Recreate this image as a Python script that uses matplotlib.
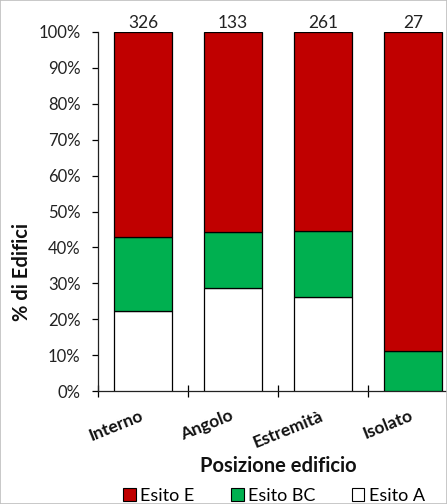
import matplotlib
matplotlib.use("Agg")
import matplotlib.pyplot as plt
from matplotlib.patches import Patch, Rectangle

plt.rcParams['font.family'] = ['Lato', 'DejaVu Sans']

categories = ["Interno", "Angolo", "Estremità", "Isolato"]
counts = [326, 133, 261, 27]
esito_a = [22.4, 28.6, 26.1, 0.0]
esito_bc = [20.6, 15.8, 18.4, 11.1]
esito_e = [57.0, 55.6, 55.5, 88.9]
yticks = [0, 10, 20, 30, 40, 50, 60, 70, 80, 90, 100]

colors = {"E": "#C00000", "BC": "#00B050", "A": "#FFFFFF"}

W, H = 447, 504
fig = plt.figure(figsize=(W / 100, H / 100), dpi=100)
ax = fig.add_axes([98 / W, 1 - 391 / H, (447 - 98) / W, (391 - 32) / H])

x = list(range(len(categories)))
bw = 0.655
ax.bar(x, esito_a, bw, color=colors["A"], edgecolor="black", linewidth=0.9, zorder=3)
ax.bar(x, esito_bc, bw, bottom=esito_a, color=colors["BC"], edgecolor="black", linewidth=0.9, zorder=3)
bottom_e = [a + b for a, b in zip(esito_a, esito_bc)]
ax.bar(x, esito_e, bw, bottom=bottom_e, color=colors["E"], edgecolor="black", linewidth=0.9, zorder=3)

for xi, n in zip(x, counts):
    ax.annotate(str(n), (xi, 100), xytext=(0, 1), textcoords="offset points",
                ha="center", va="bottom", fontsize=12.5, color="#222222")

ax.set_xlim(-0.5, 3.5 - 11 / 90)
ax.set_ylim(0, 100)
ax.set_yticks(yticks)
ax.set_yticklabels([f"{t}%" for t in yticks], fontsize=12, color="#222222")
ax.tick_params(axis="y", direction="out", length=4.5, width=0.9, pad=8)

ax.set_xticks([-0.5, 0.5, 1.5, 2.5])
ax.set_xticklabels([])
ax.tick_params(axis="x", direction="inout", length=9, width=0.9)

for xi, lab in zip(x, categories):
    ax.annotate(lab, (xi - 0.04, 0), xytext=(0, -12), textcoords="offset points",
                ha="right", va="top", rotation=22, rotation_mode="anchor",
                fontsize=12.5, fontweight="bold", color="#111111")

for s in ["top", "right"]:
    ax.spines[s].set_visible(False)
for s in ["left", "bottom"]:
    ax.spines[s].set_linewidth(0.9)
    ax.spines[s].set_color("#222222")

fig.text(22 / W, 1 - 272 / H, "% di Edifici", rotation=90, ha="center", va="center",
         fontsize=14.5, fontweight="bold", color="#111111")
fig.text(278 / W, 1 - 466 / H, "Posizione edificio", ha="center", va="center",
         fontsize=14.5, fontweight="bold", color="#111111")

handles = [Patch(facecolor=colors["E"], edgecolor="black", linewidth=0.8, label="Esito E"),
           Patch(facecolor=colors["BC"], edgecolor="black", linewidth=0.8, label="Esito BC"),
           Patch(facecolor=colors["A"], edgecolor="black", linewidth=0.8, label="Esito A")]
fig.legend(handles=handles, loc="center", bbox_to_anchor=(274 / W, 1 - 496 / H), ncol=3,
           frameon=False, fontsize=13, handlelength=0.7, handleheight=0.7,
           handletextpad=0.25, columnspacing=2.0, borderaxespad=0)

fig.patches.append(Rectangle((0, 0), 1, 1, transform=fig.transFigure, fill=False,
                             edgecolor="#BFBFBF", linewidth=1.2))

fig.savefig("out.png", dpi=100)
